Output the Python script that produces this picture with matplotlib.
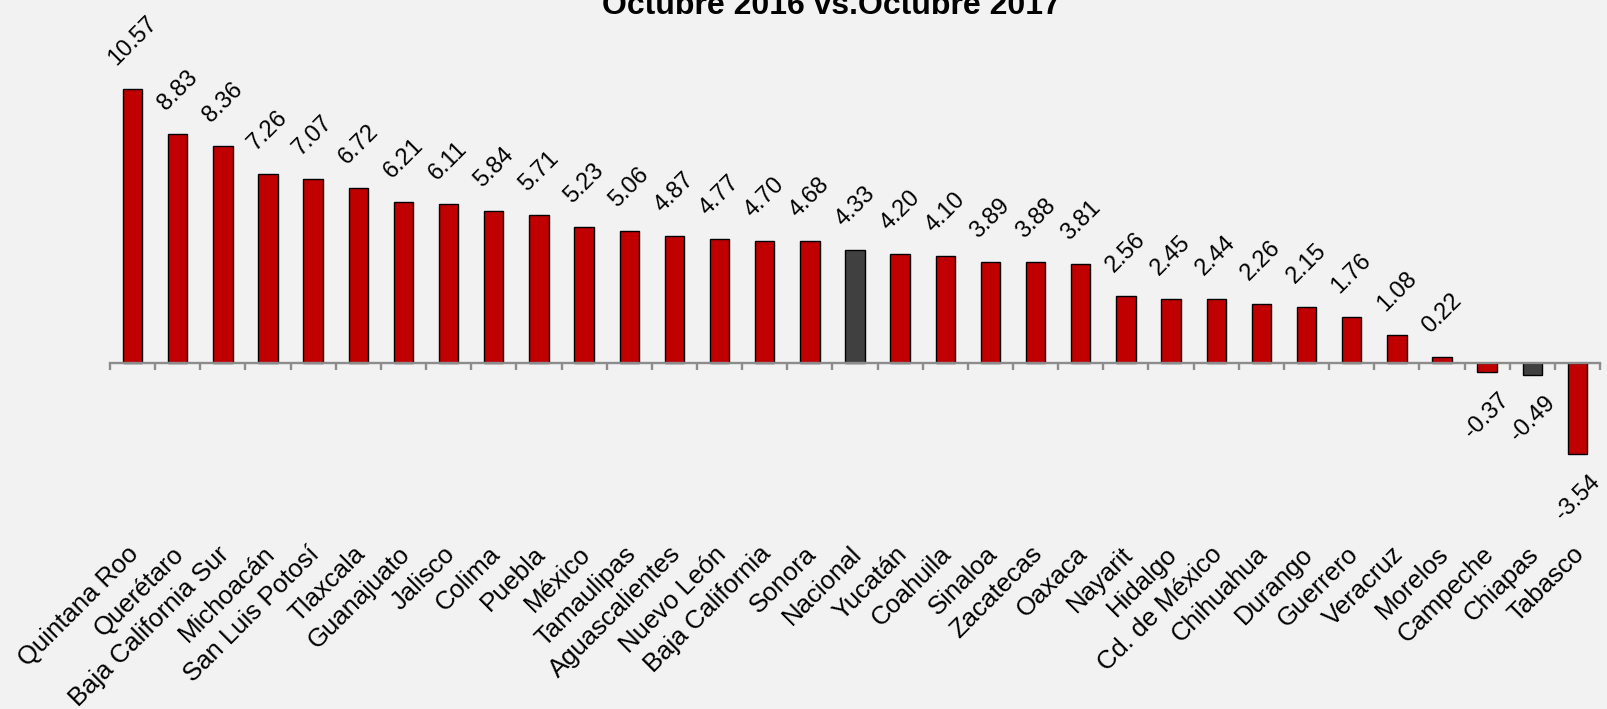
import matplotlib
matplotlib.use('Agg')
import matplotlib.pyplot as plt
from matplotlib.ticker import FixedLocator, NullLocator
import numpy as np

plt.rcParams['font.family'] = ['Liberation Sans', 'DejaVu Sans']

# data
estados = ['Quintana Roo', 'Querétaro', 'Baja California Sur', 'Michoacán',
           'San Luis Potosí', 'Tlaxcala', 'Guanajuato', 'Jalisco', 'Colima',
           'Puebla', 'México', 'Tamaulipas', 'Aguascalientes', 'Nuevo León',
           'Baja California', 'Sonora', 'Nacional', 'Yucatán', 'Coahuila',
           'Sinaloa', 'Zacatecas', 'Oaxaca', 'Nayarit', 'Hidalgo',
           'Cd. de México', 'Chihuahua', 'Durango', 'Guerrero', 'Veracruz',
           'Morelos', 'Campeche', 'Chiapas', 'Tabasco']
valores = [10.57, 8.83, 8.36, 7.26, 7.07, 6.72, 6.21, 6.11, 5.84, 5.71,
           5.23, 5.06, 4.87, 4.77, 4.70, 4.68, 4.33, 4.20, 4.10, 3.89,
           3.88, 3.81, 2.56, 2.45, 2.44, 2.26, 2.15, 1.76, 1.08, 0.22,
           -0.37, -0.49, -3.54]
resaltados = ['Nacional', 'Chiapas']
titulo = 'Octubre 2016 vs.Octubre 2017'

rojo = '#C00000'
gris = '#404040'
fondo = '#F2F2F2'

fig = plt.figure(figsize=(16.08, 7.09), dpi=100, facecolor=fondo)
ax = fig.add_axes([110/1608, 1 - 492/709, 1490/1608, 440.3/709])
ax.set_facecolor(fondo)

x = np.arange(len(estados))
colores = [gris if e in resaltados else rojo for e in estados]
ax.bar(x, valores, width=0.43, color=colores, edgecolor='black', linewidth=1.0, zorder=3)

ax.set_xlim(-0.5, len(estados) - 0.5)
ax.set_ylim(-5, 12)

# zero axis with ticks between categories
for s in ['top', 'right', 'left']:
    ax.spines[s].set_visible(False)
ax.spines['bottom'].set_position(('data', 0))
ax.spines['bottom'].set_color('#8C8C8C')
ax.spines['bottom'].set_linewidth(1.7)
ax.spines['bottom'].set_zorder(4)
ax.xaxis.set_major_locator(FixedLocator(list(np.arange(len(estados) + 1) - 0.5)))
ax.tick_params(axis='x', length=5, width=1.7, color='#8C8C8C', labelbottom=False, direction='out')
ax.yaxis.set_major_locator(NullLocator())

# value labels
for xi, v in zip(x, valores):
    if v >= 0:
        ax.annotate(f'{v:.2f}', (xi, v), xytext=(0, 14), textcoords='offset points',
                    ha='center', va='bottom', rotation=45, fontsize=17)
    else:
        ax.annotate(f'{v:.2f}', (xi, v), xytext=(0, -12), textcoords='offset points',
                    ha='center', va='top', rotation=45, fontsize=17)

# category labels at the bottom of the plot area
for xi, e in zip(x, estados):
    ax.annotate(e, (xi, 0), xycoords=('data', 'axes fraction'), xytext=(2, -42),
                textcoords='offset points', ha='right', va='center',
                rotation=45, rotation_mode='anchor', fontsize=18.5, annotation_clip=False)

fig.text(831/1608, 1 - 14.5/709, titulo, ha='center', va='baseline',
         fontsize=23, fontweight='bold')

fig.savefig('out.png', dpi=100, facecolor=fondo)
